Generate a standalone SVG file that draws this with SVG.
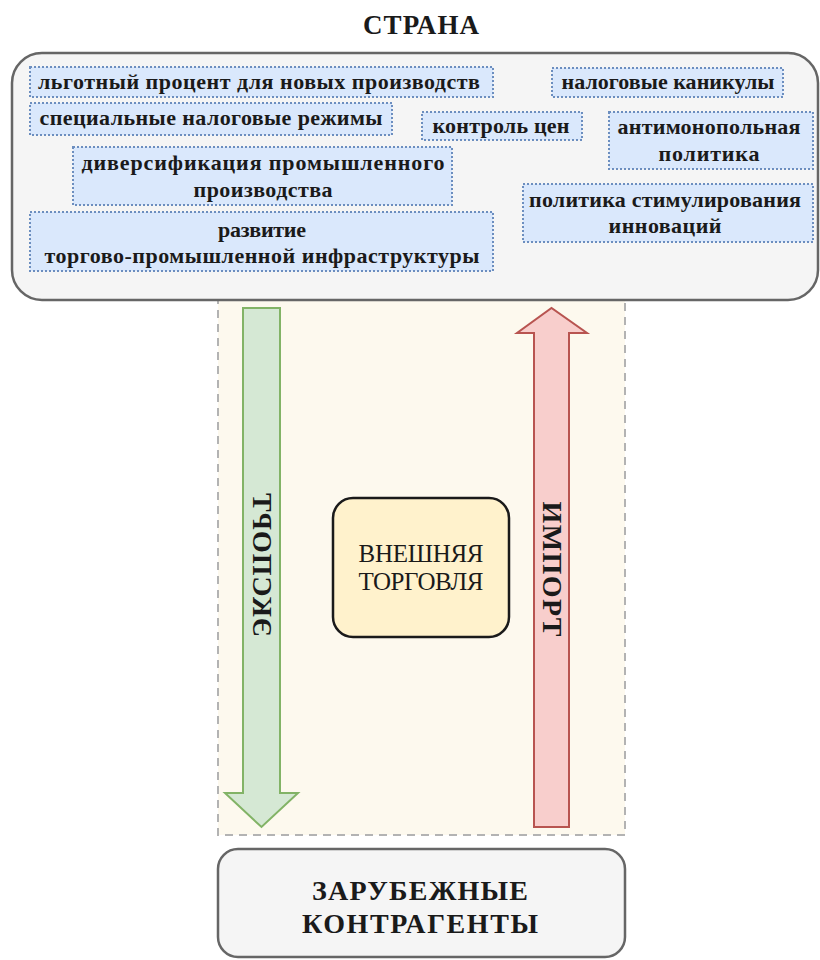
<svg xmlns="http://www.w3.org/2000/svg" width="820" height="960" viewBox="0 0 820 960">
<style>
text{font-family:"Liberation Serif","DejaVu Serif","Times New Roman",serif}
.t{fill:#1a1a1a}
.b{font-weight:bold}
.item{fill:#dae8fc;stroke:#6c8ebf;stroke-width:2;stroke-dasharray:2 2}
.it{font-weight:bold;font-size:22px;fill:#1a1a1a;text-anchor:middle}
.grey{fill:#f5f5f5;stroke:#666666;stroke-width:2.5}
</style>
<rect width="820" height="960" fill="#ffffff"/>
<g id="trade-zone">
<rect x="218" y="290" width="407" height="545" fill="#fdf9ee" stroke="#b3b3b3" stroke-width="2" stroke-dasharray="8 6"/>
</g>
<g id="country">
<text class="t b" x="421" y="34" font-size="27" text-anchor="middle" textLength="116" fill="#333">СТРАНА</text>
<rect class="grey" x="12" y="53" width="806" height="247" rx="30"/>
</g>
<g id="item-1"><rect class="item" x="30" y="67" width="463" height="30"/><text class="it" x="259" y="89" textLength="442">льготный процент для новых производств</text></g>
<g id="item-2"><rect class="item" x="552" y="68" width="231" height="29"/><text class="it" x="668" y="89" textLength="213">налоговые каникулы</text></g>
<g id="item-3"><rect class="item" x="30" y="103" width="362" height="32"/><text class="it" x="211" y="125" textLength="343">специальные налоговые режимы</text></g>
<g id="item-4"><rect class="item" x="422" y="112" width="160" height="28"/><text class="it" x="501" y="133" textLength="137">контроль цен</text></g>
<g id="item-5"><rect class="item" x="609" y="112" width="204" height="57"/><text class="it" x="709" y="134" textLength="183">антимонопольная</text><text class="it" x="709" y="161" textLength="101">политика</text></g>
<g id="item-6"><rect class="item" x="73" y="147" width="379" height="58"/><text class="it" x="263" y="170" textLength="363">диверсификация промышленного</text><text class="it" x="263" y="197" textLength="139">производства</text></g>
<g id="item-7"><rect class="item" x="30" y="212" width="463" height="59"/><text class="it" x="262" y="237" textLength="88">развитие</text><text class="it" x="262" y="263" textLength="435">торгово-промышленной инфраструктуры</text></g>
<g id="item-8"><rect class="item" x="523" y="184" width="290" height="58"/><text class="it" x="665" y="207" textLength="272">политика стимулирования</text><text class="it" x="665" y="233" textLength="113">инноваций</text></g>
<g id="connectors">
<polygon points="243,308 280,308 280,793 298,793 261.5,827 225,793 243,793" fill="#d5e8d4" stroke="#82b366" stroke-width="2"/>
<polygon points="534,827 569,827 569,333 587,333 551.5,308 517,333 534,333" fill="#f8cecc" stroke="#b85450" stroke-width="2"/>
<text class="t b" font-size="28" text-anchor="middle" textLength="144" transform="translate(262,565) scale(1,-1) rotate(90)" y="9">ЭКСПОРТ</text>
<text class="t b" font-size="28" text-anchor="middle" textLength="135" transform="translate(552,569) rotate(90)" y="9">ИМПОРТ</text>
</g>
<g id="foreign-trade">
<rect x="333" y="498" width="176" height="139" rx="20" fill="#fff2cc" stroke="#1a1a1a" stroke-width="2.5"/>
<text class="t" x="421" y="562" font-size="25" text-anchor="middle" textLength="125">ВНЕШНЯЯ</text>
<text class="t" x="421" y="590" font-size="25" text-anchor="middle" textLength="125">ТОРГОВЛЯ</text>
</g>
<g id="counterparties">
<rect class="grey" x="218" y="849" width="407" height="108" rx="20"/>
<text class="t b" x="420" y="900" font-size="28" text-anchor="middle" textLength="216" fill="#333">ЗАРУБЕЖНЫЕ</text>
<text class="t b" x="420" y="933" font-size="28" text-anchor="middle" textLength="236" fill="#333">КОНТРАГЕНТЫ</text>
</g>
</svg>
